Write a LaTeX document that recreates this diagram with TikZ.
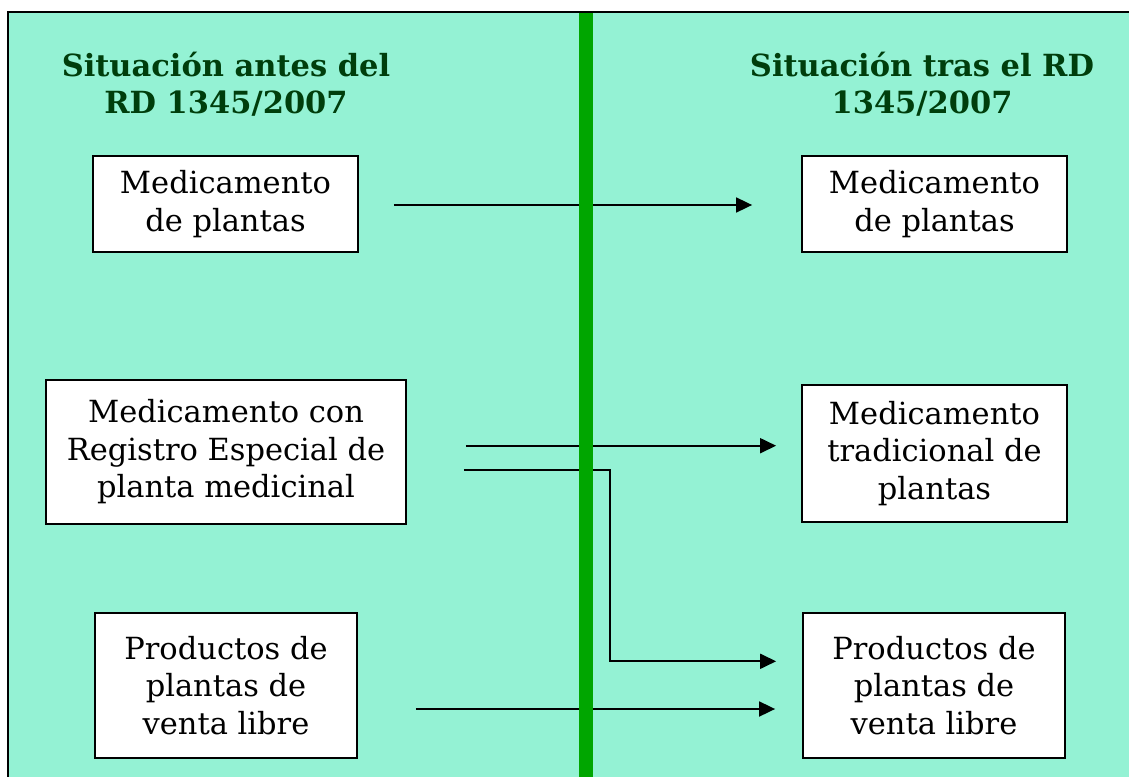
\documentclass[tikz,border=0pt]{standalone}
\usepackage{fontspec}
\setmainfont{DejaVu Serif}
\usetikzlibrary{arrows.meta}
\definecolor{fondo}{RGB}{148,242,212}
\definecolor{franja}{RGB}{0,166,0}
\definecolor{titulo}{RGB}{0,62,12}

\begin{document}
\begin{tikzpicture}[x=1pt,y=-1pt]
        \useasboundingbox (0,0) rectangle (1129,776);
        \clip (0,0) rectangle (1129,776);
        \fill[white] (0,0) rectangle (1129,776);
        \draw[black, line width=2pt, fill=fondo] (8,12) rectangle (1140,790);
        \begin{scope}[every node/.style={font=\fontsize{30.5}{37}\selectfont\bfseries, text=titulo, align=center, inner sep=0pt}]
                \node (Antes) at (226,84.5) {Situación antes del\\RD 1345/2007};
                \node (Tras) at (922,84.5) {Situación tras el RD\\1345/2007};
        \end{scope}
        \begin{scope}[every node/.style={draw, line width=1.8pt, fill=white, align=center, inner sep=0pt, font=\fontsize{30.5}{37.5}\selectfont}]
                \node [minimum width=265pt, minimum height=96pt] (MedA) at (225.5,204) {Medicamento\\de plantas};
                \node [minimum width=265pt, minimum height=96pt] (MedB) at (934.5,204) {Medicamento\\de plantas};
                \node [minimum width=360pt, minimum height=144pt] (Reg) at (226,452) {Medicamento con\\Registro Especial de\\planta medicinal};
                \node [minimum width=265pt, minimum height=137pt] (Trad) at (934.5,453.5) {Medicamento\\tradicional de\\plantas};
                \node [minimum width=262pt, minimum height=145pt] (ProdA) at (226,685.5) {Productos de\\plantas de\\venta libre};
                \node [minimum width=262pt, minimum height=145pt] (ProdB) at (934,685.5) {Productos de\\plantas de\\venta libre};
        \end{scope}
        \coordinate (Codo) at (610,661.3);
        \begin{scope}[every path/.style={line width=1.8pt, -{Triangle[length=16pt,width=15pt]}}]
                \path[draw, shorten <=35pt, shorten >=49pt] ([yshift=-1pt]MedA.east) -- ([yshift=-1pt]MedA.east -| MedB.west);
                \path[draw, shorten <=59pt, shorten >=25pt] ([yshift=6.3pt]Reg.east) -- ([yshift=6.3pt]Reg.east -| Trad.west);
                \path[draw, shorten <=57pt, shorten >=26pt] ([yshift=-17.7pt]Reg.east) -| (Codo) -- (Codo -| ProdB.west);
                \path[draw, shorten <=58pt, shorten >=27pt] ([yshift=-23.5pt]ProdA.east) -- ([yshift=-23.5pt]ProdA.east -| ProdB.west);
        \end{scope}
        \draw[franja, line width=14pt] (586,13) -- (586,790);
\end{tikzpicture}
\end{document}
